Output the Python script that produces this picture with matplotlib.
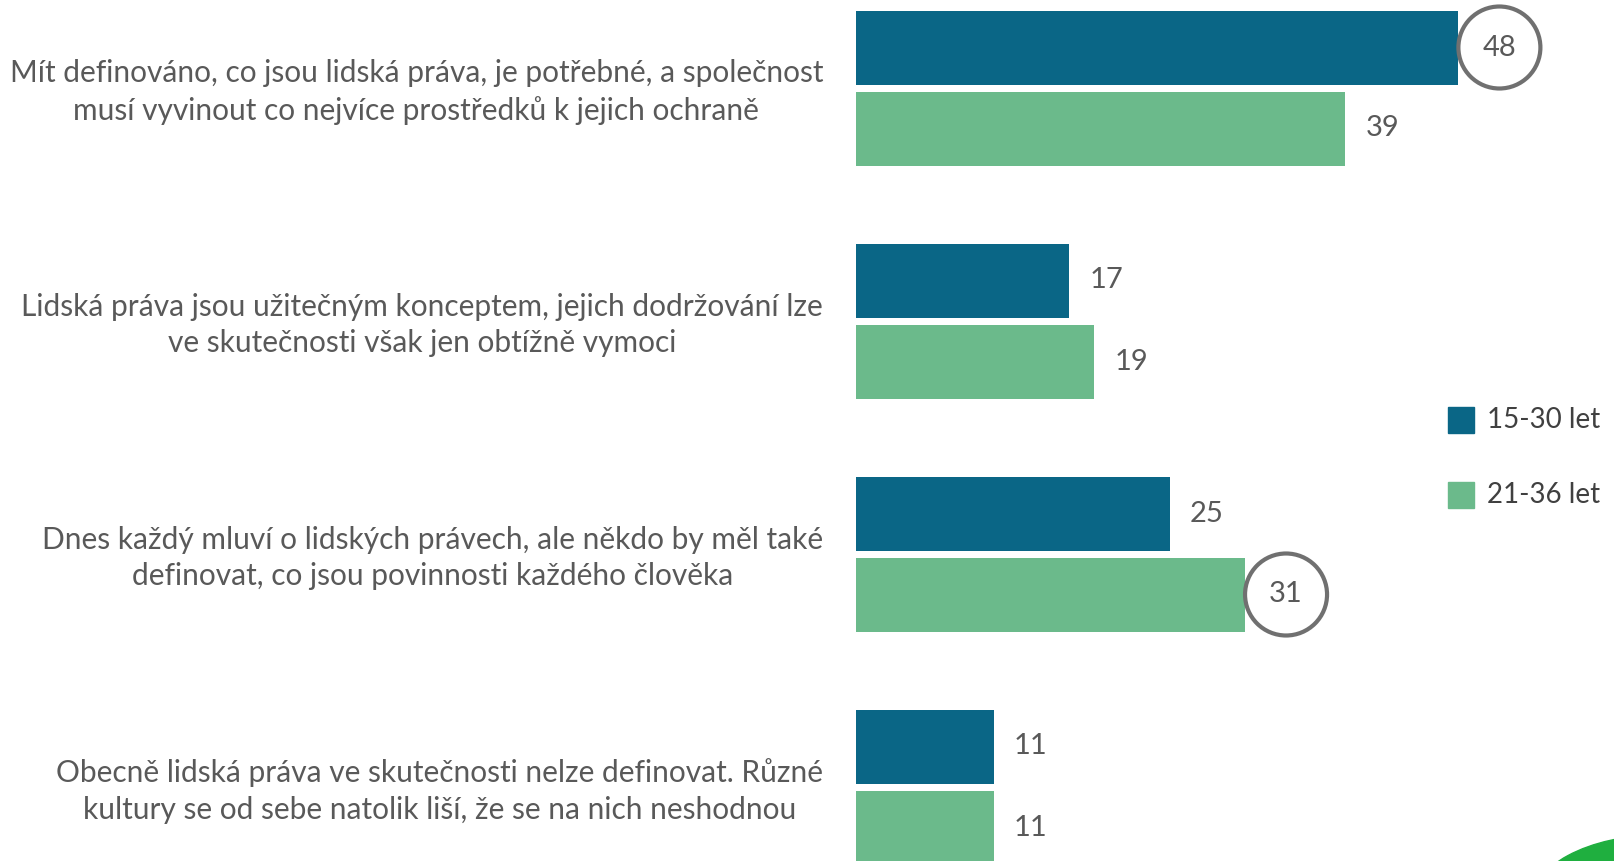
import matplotlib.pyplot as plt
from matplotlib.patches import Ellipse, Rectangle

plt.rcParams['font.family'] = ['Lato', 'DejaVu Sans']

statements = [
    "Mít definováno, co jsou lidská práva, je potřebné, a společnost\nmusí vyvinout co nejvíce prostředků k jejich ochraně",
    "Lidská práva jsou užitečným konceptem, jejich dodržování lze\nve skutečnosti však jen obtížně vymoci",
    "Dnes každý mluví o lidských právech, ale někdo by měl také\ndefinovat, co jsou povinnosti každého člověka",
    "Obecně lidská práva ve skutečnosti nelze definovat. Různé\nkultury se od sebe natolik liší, že se na nich neshodnou",
]
series_names = ["15-30 let", "21-36 let"]
young = [48, 17, 25, 11]
older = [39, 19, 31, 11]
# (series index, statement index) of circled values
highlighted = [(0, 0), (1, 2)]

colors = ["#0A6686", "#6BBA8B"]
text_grey = "#595959"
W, H = 1614, 861
px_per_unit = 12.55
x0 = 856
pitch = 233.0
top_center = 88.0

fig = plt.figure(figsize=(W / 100, H / 100), dpi=100)
ax = fig.add_axes([x0 / W, 0, 1 - x0 / W, 1])
ax.set_xlim(0, (W - x0) / px_per_unit)
ax.set_ylim((H - top_center) / pitch, -top_center / pitch)
ax.axis("off")

bar_h = 74 / pitch
offset = 40.5 / pitch
for s, vals in enumerate([young, older]):
    ys = [i + (-offset if s == 0 else offset) for i in range(len(vals))]
    ax.barh(ys, vals, height=bar_h, color=colors[s], label=series_names[s])
    for i, (y, v) in enumerate(zip(ys, vals)):
        if (s, i) in highlighted:
            r = 41 / px_per_unit
            cx = v + r
            ax.add_patch(Ellipse((cx, y), 2 * r, 2 * 41 / pitch, fill=False,
                                 edgecolor="#707070", linewidth=3, clip_on=False))
            ax.text(cx, y, str(v), ha="center", va="center", fontsize=21,
                    color=text_grey)
        else:
            ax.text(v + 20 / px_per_unit, y, str(v), ha="left", va="center",
                    fontsize=21, color=text_grey)

for i, label in enumerate(statements):
    fig.text(823 / W, 1 - (top_center + i * pitch + 4) / H, label, ha="right",
             va="center", multialignment="center", fontsize=21.5,
             color=text_grey, linespacing=1.38)

# legend drawn as squares with labels
for s, name in enumerate(series_names):
    yc = 420 + s * 75
    fig.patches.append(Rectangle((1448 / W, 1 - (yc + 13) / H), 26 / W, 26 / H,
                                 transform=fig.transFigure, color=colors[s]))
    fig.text(1487 / W, 1 - yc / H, name, ha="left", va="center",
             fontsize=20, color="#404040")

# corner logo fragment
fig.patches.append(Ellipse((1660 / W, 1 - 905 / H), 260 / W, 140 / H,
                           transform=fig.transFigure, color="#1FAF3F"))

fig.savefig("out.png", dpi=100)
